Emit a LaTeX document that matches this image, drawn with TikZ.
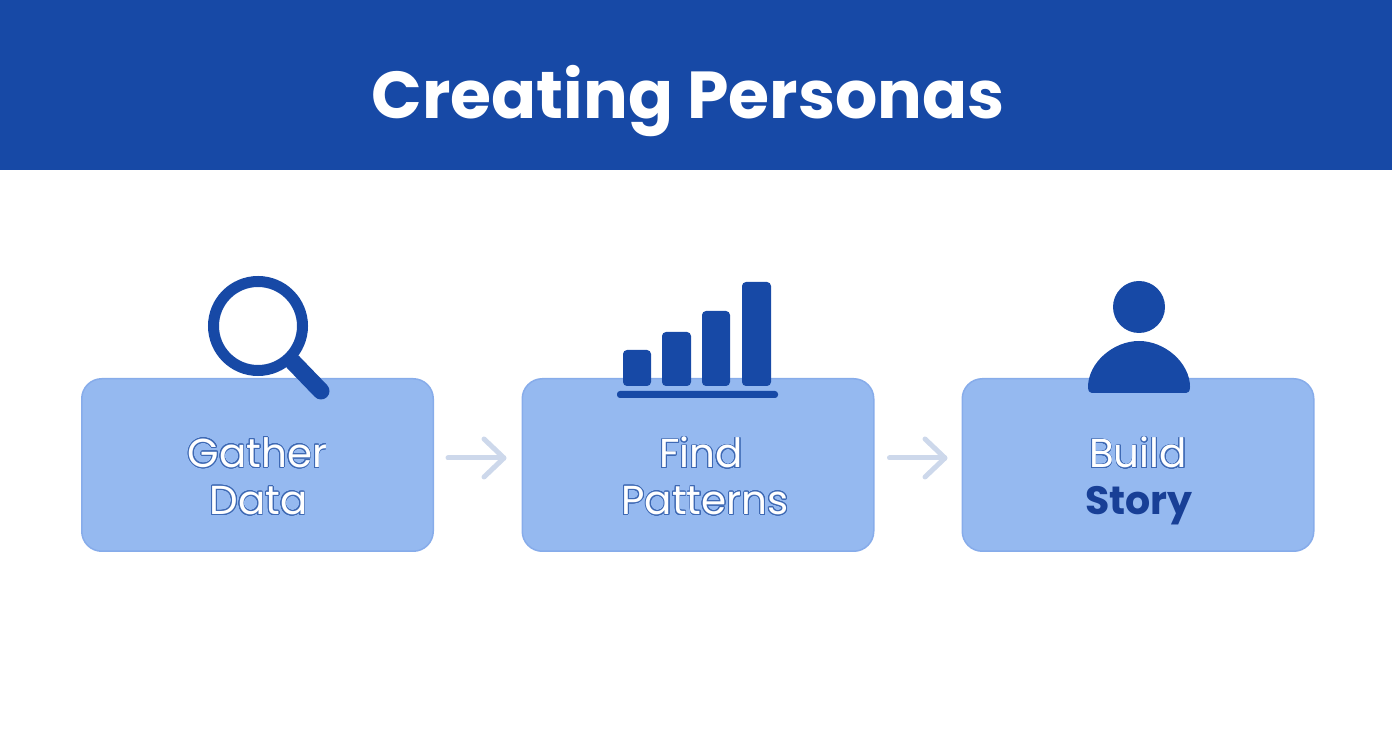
\documentclass[tikz,border=0pt]{standalone}
\usepackage{fontspec}
\setmainfont{Poppins}
\usepackage[copies]{contour}
\usetikzlibrary{arrows.meta}
\definecolor{headblue}{RGB}{23, 73, 166}
\definecolor{boxblue}{RGB}{149, 185, 240}
\definecolor{edgeblue}{RGB}{135, 172, 234}
\definecolor{storyblue}{RGB}{24, 63, 150}
\definecolor{arrowgray}{RGB}{205, 216, 235}
\definecolor{linkblue}{RGB}{62, 105, 180}
\contourlength{0.45pt}
\contournumber{24}
\newcommand{\outlined}[1]{\contour{linkblue}{#1}}
\tikzset{
    stepbox/.style={draw=edgeblue, line width=0.03cm, fill=boxblue, rounded corners=0.4cm, minimum width=7.03cm, minimum height=3.45cm},
    steptext/.style={font=\fontsize{23}{23}\selectfont, text=white},
    flow/.style={-{Straight Barb[length=0.4cm, width=0.76cm, round]}, arrowgray, line width=0.1cm, line cap=round},
    icon/.style={fill=headblue, draw=none}
}

\begin{document}
\begin{tikzpicture}
            \useasboundingbox (0,0) rectangle (27.84,15.04);

            % Header
            \fill[headblue] (0,11.64) rectangle (27.84,15.04);
            \node[white, font=\fontsize{37.8}{37.8}\selectfont\bfseries] (title) at (13.76,13.02) {Creating Personas};

            % Step boxes
            \node[stepbox] (gather) at (5.15,5.74) {};
            \node[stepbox] (find) at (13.96,5.74) {};
            \node[stepbox] (build) at (22.76,5.74) {};

            % Arrows
            \draw[flow, shorten <=0.28cm, shorten >=0.3cm] ([yshift=0.14cm]gather.east) -- ([yshift=0.14cm]find.west);
            \draw[flow, shorten <=0.3cm, shorten >=0.28cm] ([yshift=0.14cm]find.east) -- ([yshift=0.14cm]build.west);

            % Box labels
            \node[steptext] (gather1) at (5.15,5.98) {\outlined{Gather}};
            \node[steptext] (gather2) at (5.17,5.02) {\outlined{Data}};
            \node[steptext] (find1) at (14.02,5.98) {\outlined{Find}};
            \node[steptext] (find2) at (14.1,5.02) {\outlined{Patterns}};
            \node[steptext] (build1) at (22.76,5.98) {\outlined{Build}};
            \node[steptext, text=storyblue, font=\fontsize{22.5}{22.5}\selectfont\bfseries] (build2) at (22.78,4.92) {Story};

            % Magnifier icon
            \draw[headblue, line width=0.22cm] (5.16,8.52) circle (0.89);
            \draw[headblue, line width=0.34cm, line cap=round] (5.86,7.80) -- (6.42,7.22);

            % Bars icon
            \fill[icon, rounded corners=0.08cm] (12.46,7.32) rectangle (13.02,8.04);
            \fill[icon, rounded corners=0.08cm] (13.24,7.32) rectangle (13.82,8.40);
            \fill[icon, rounded corners=0.08cm] (14.04,7.32) rectangle (14.60,8.82);
            \fill[icon, rounded corners=0.08cm] (14.84,7.32) rectangle (15.42,9.40);
            \fill[icon, rounded corners=0.06cm] (12.34,7.08) rectangle (15.56,7.22);

            % Person icon
            \fill[icon] (22.78,8.90) circle (0.52);
            \fill[icon] (21.76,7.30) .. controls (21.76,7.78) and (22.26,8.22) .. (22.78,8.22)
                .. controls (23.30,8.22) and (23.80,7.78) .. (23.80,7.30)
                .. controls (23.80,7.20) and (23.76,7.18) .. (23.68,7.18)
                -- (21.88,7.18) .. controls (21.80,7.18) and (21.76,7.20) .. (21.76,7.30) -- cycle;
        \end{tikzpicture}
\end{document}
